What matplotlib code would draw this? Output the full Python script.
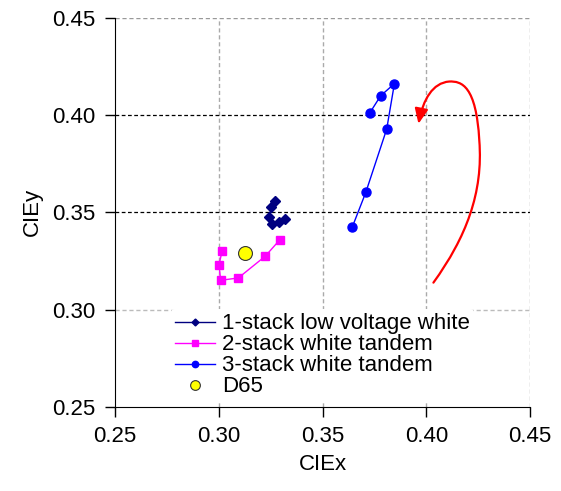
import numpy as np
import matplotlib.pyplot as plt
from matplotlib.path import Path
from matplotlib.patches import FancyArrowPatch

plt.rcParams['font.family'] = ['Liberation Sans', 'DejaVu Sans']

# CIE coordinates
stack1_x = [0.3272, 0.3253, 0.3243, 0.3254, 0.3291, 0.3320]
stack1_y = [0.3556, 0.3525, 0.3477, 0.3438, 0.3448, 0.3467]

stack2_x = [0.3016, 0.3001, 0.3009, 0.3094, 0.3224, 0.3294]
stack2_y = [0.3302, 0.3230, 0.3151, 0.3163, 0.3275, 0.3359]

stack3_x = [0.3727, 0.3780, 0.3846, 0.3809, 0.3708, 0.3644]
stack3_y = [0.4010, 0.4099, 0.4161, 0.3928, 0.3602, 0.3427]

d65_x = [0.3127]
d65_y = [0.3290]

ticks = [0.25, 0.30, 0.35, 0.40, 0.45]
tick_labels = ["0.25", "0.30", "0.35", "0.40", "0.45"]

fig = plt.figure(figsize=(5.61, 4.91), dpi=100)
ax = fig.add_axes([0.205, 0.171, 0.740, 0.793])

# grid: light gray dashed, plus two darker reference lines
for v in [0.30, 0.35, 0.40, 0.45]:
    ax.axvline(v, color='#aaaaaa', ls=(0, (3, 2)), lw=1, zorder=0)
ax.axhline(0.30, color='#bbbbbb', ls=(0, (3, 2)), lw=1, zorder=0)
ax.axhline(0.45, color='#999999', ls=(0, (3, 2)), lw=1, zorder=0)
for v in [0.35, 0.40]:
    ax.axhline(v, color='black', ls=(0, (3, 2)), lw=0.9, zorder=0)

ax.plot(stack1_x, stack1_y, color='#000080', lw=1, marker='D', ms=5,
        label='1-stack low voltage white')
ax.plot(stack2_x, stack2_y, color='#ff00ff', lw=1, marker='s', ms=6,
        label='2-stack white tandem')
ax.plot(stack3_x, stack3_y, color='#0000ff', lw=1, marker='o', ms=6.5,
        label='3-stack white tandem')
ax.plot(d65_x, d65_y, ls='none', marker='o', ms=10, mfc='#ffff00',
        mec='#333333', mew=0.8, label='D65')

# red curved arrow
verts = [(0.4034, 0.3139),
         (0.4190, 0.3370), (0.4275, 0.3600), (0.4255, 0.3870),
         (0.4240, 0.4150), (0.4170, 0.4175), (0.4110, 0.4172),
         (0.4030, 0.4165), (0.3985, 0.4080), (0.3962, 0.3955)]
codes = [Path.MOVETO] + [Path.CURVE4] * 9
arrow = FancyArrowPatch(path=Path(verts, codes),
                        arrowstyle='-|>,head_length=9,head_width=4',
                        color='#ff0000', lw=1.6, mutation_scale=1)
ax.add_patch(arrow)

ax.set_xlim(0.25, 0.45)
ax.set_ylim(0.25, 0.45)
ax.set_xticks(ticks)
ax.set_xticklabels(tick_labels)
ax.set_yticks(ticks)
ax.set_yticklabels(tick_labels)
ax.tick_params(direction='out', length=7, width=1, labelsize=16, pad=7)
ax.spines['top'].set_visible(False)
ax.spines['right'].set_visible(False)
ax.set_xlabel('CIEx', fontsize=16, labelpad=5)
ax.set_ylabel('CIEy', fontsize=16, labelpad=7)

leg = ax.legend(loc='upper left', bbox_to_anchor=(0.135, 0.252), fontsize=16,
                frameon=True, edgecolor='none', facecolor='white', framealpha=1,
                handlelength=1.8, handletextpad=0.3, labelspacing=0.0,
                borderpad=0.2, borderaxespad=0, markerscale=0.7)

fig.savefig('out.png', dpi=100)
